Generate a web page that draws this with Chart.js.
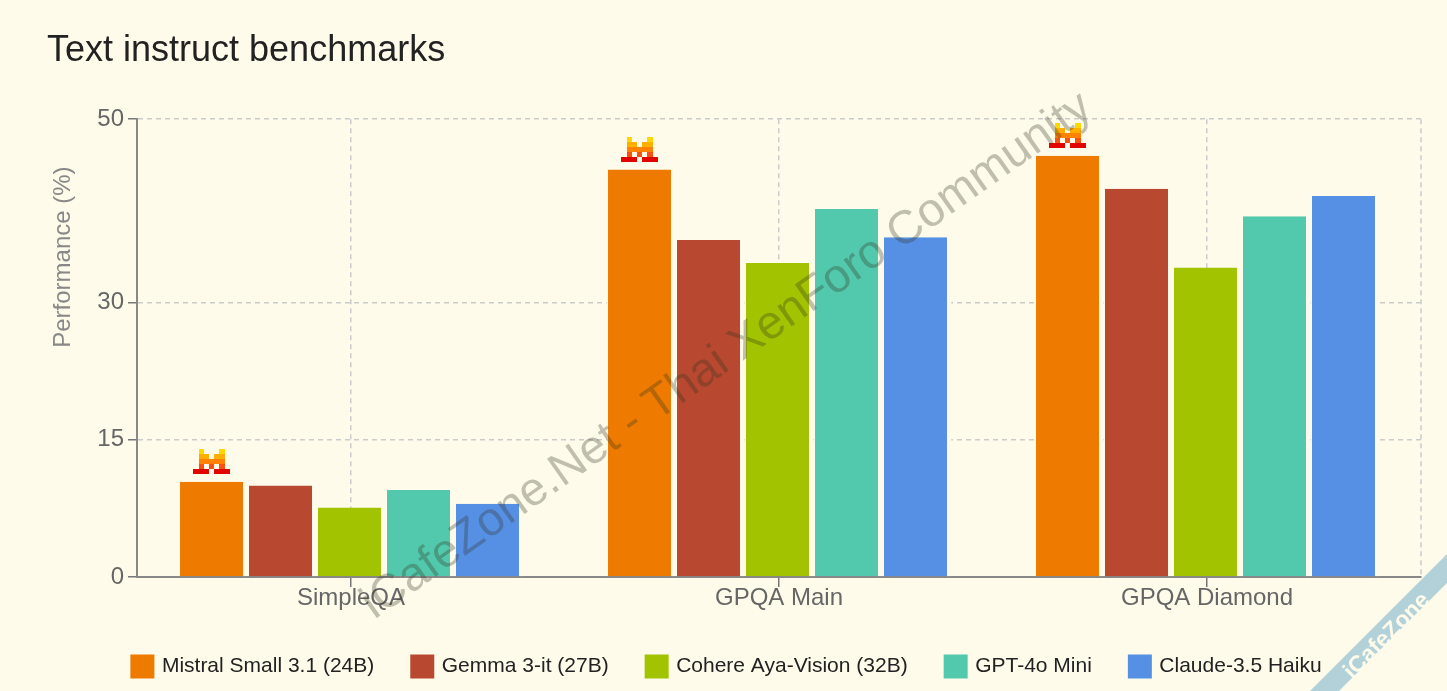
<!DOCTYPE html>
<html><head><meta charset="utf-8">
<style>html,body{margin:0;padding:0;background:#FEFBEA}canvas{display:block}#w{width:1447px;height:691px;position:relative}</style>
<script src="https://cdn.jsdelivr.net/npm/chart.js@4"></script>
</head><body><div id="w"><canvas id="c"></canvas></div>
<script>
const categories = ["SimpleQA", "GPQA Main", "GPQA Diamond"];
const seriesNames = ["Mistral Small 3.1 (24B)", "Gemma 3-it (27B)", "Cohere Aya-Vision (32B)", "GPT-4o Mini", "Claude-3.5 Haiku"];
const mistral = [10.4, 44.5, 46.0];
const gemma = [10.0, 36.8, 42.4];
const cohere = [7.6, 34.3, 33.8];
const gpt4oMini = [9.5, 40.2, 39.4];
const claudeHaiku = [8.0, 37.1, 41.6];
const yTicks = [0, 15, 30, 50];
const colors = ["#EE7B00", "#B84830", "#A2C300", "#52C9AD", "#5690E5"];
const bg = "#FEFBEA";
const font = "'Liberation Sans', Arial, sans-serif";
const values = [mistral, gemma, cohere, gpt4oMini, claudeHaiku];

const logoRows = [
  ["#FFD800", [1, 5]],
  ["#FFAF00", [1, 2, 4, 5]],
  ["#FF8205", [1, 2, 3, 4, 5]],
  ["#FA500F", [1, 3, 5]],
  ["#E10500", [0, 1, 2, 4, 5, 6]]
];

const decor = {
  id: "decor",
  afterLayout(chart) {
    chart.legend.left -= 6.5;
    chart.legend.right -= 6.5;
  },
  beforeDatasetsDraw(chart) {
    const a = chart.chartArea, c = chart.ctx;
    c.save();
    c.strokeStyle = "#cccccc"; c.lineWidth = 1.5; c.setLineDash([5, 4]);
    c.beginPath(); c.moveTo(a.right, a.top); c.lineTo(a.right, a.bottom); c.stroke();
    c.restore();
  },
  afterDraw(chart) {
    const c = chart.ctx;
    const meta = chart.getDatasetMeta(0);
    const cell = 5.2;
    meta.data.forEach(bar => {
      const cx = bar.x - 1.5, bottom = Math.round(bar.y) - 8;
      logoRows.forEach(([col, cols], r) => {
        c.fillStyle = col;
        cols.forEach(k => {
          const x0 = Math.round(cx - 18.2 + k * cell), x1 = Math.round(cx - 18.2 + (k + 1) * cell);
          c.fillRect(x0, bottom - (5 - r) * 5, x1 - x0, 5);
        });
      });
    });
    c.save();
    c.translate(727, 356);
    c.rotate(-35.1 * Math.PI / 180);
    c.font = "47px " + font;
    c.fillStyle = "rgba(50,50,30,0.3)";
    c.textAlign = "center"; c.textBaseline = "middle";
    c.fillText("iCafeZone.Net - Thai XenForo Community", 0, 0);
    c.restore();
    c.save();
    c.fillStyle = "#B3D1D8";
    c.beginPath(); c.moveTo(1447, 554); c.lineTo(1310, 691); c.lineTo(1339, 691); c.lineTo(1447, 583); c.closePath(); c.fill();
    c.translate(1387, 636);
    c.rotate(-Math.PI / 4);
    c.font = "bold 23px " + font;
    c.fillStyle = "#FEFBEA";
    c.textAlign = "center"; c.textBaseline = "middle";
    c.fillText("iCafeZone", 0, 0);
    c.restore();
  }
};

new Chart(document.getElementById("c"), {
  type: "bar",
  plugins: [decor],
  data: {
    labels: categories,
    datasets: seriesNames.map((n, i) => ({
      label: n,
      data: values[i],
      backgroundColor: colors[i],
      borderColor: bg,
      borderWidth: { left: 1.5, right: 4.5, top: 0, bottom: 0 },
      borderSkipped: false,
      categoryPercentage: 0.806,
      barPercentage: 1
    }))
  },
  options: {
    responsive: true,
    maintainAspectRatio: false,
    animation: false,
    layout: { padding: { left: 47, right: 26, top: 29, bottom: 4 } },
    plugins: {
      tooltip: { enabled: false },
      title: {
        display: true, text: "Text instruct benchmarks", align: "start",
        color: "#222", font: { family: font, size: 36, weight: "normal" },
        padding: { top: 0, bottom: 47 }
      },
      legend: {
        position: "bottom",
        labels: {
          color: "#222", font: { family: font, size: 21 },
          boxWidth: 18, boxHeight: 18, padding: 39,
          generateLabels(chart) {
            return chart.data.datasets.map((d, i) => ({
              text: d.label, fillStyle: colors[i], strokeStyle: colors[i], lineWidth: 6,
              datasetIndex: i, fontColor: "#222"
            }));
          }
        }
      }
    },
    scales: {
      x: {
        grid: { offset: false, color: "#cccccc", lineWidth: 1.5, tickColor: "#777", tickLength: 10, tickWidth: 1.5, tickBorderDash: [] },
        border: { display: true, color: "#888", width: 2, dash: [5, 4] },
        ticks: { color: "#666", font: { family: font, size: 24 }, padding: -3, maxRotation: 0 },
        afterFit(s) { s.height = 40; }
      },
      y: {
        min: 0, max: 50,
        afterBuildTicks(s) { s.ticks = yTicks.map(v => ({ value: v })); },
        grid: { color: "#cccccc", lineWidth: 1.5, tickColor: "#777", tickLength: 9, tickWidth: 1.5, tickBorderDash: [] },
        border: { color: "#888", width: 2, dash: [5, 4] },
        ticks: { color: "#666", font: { family: font, size: 24 }, padding: 4, autoSkip: false, callback: v => String(v) },
        title: { display: true, text: "Performance (%)", color: "#888", font: { family: font, size: 24 }, padding: { top: 2, bottom: 0 } },
        afterFit(s) {
          s.width = 90;
          if (!s._titleShifted) {
            s._titleShifted = true;
            const orig = s.drawTitle;
            s.drawTitle = function () {
              this.top -= 91; this.bottom -= 91;
              orig.call(this);
              this.top += 91; this.bottom += 91;
            };
          }
        }
      }
    }
  }
});
</script></body></html>
